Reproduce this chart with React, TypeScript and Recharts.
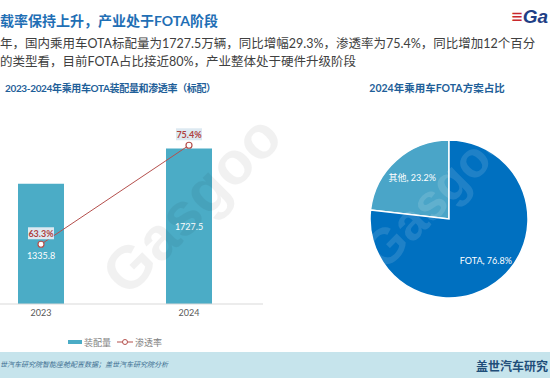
import React from "react";
import {
  ComposedChart, Bar, Line, XAxis, YAxis, Legend, LabelList,
  PieChart, Pie, Cell,
} from "recharts";

const years = ["2023", "2024"];
const installs = [1335.8, 1727.5];
const penetration = [63.3, 75.4];

const pieNames = ["其他", "FOTA"];
const pieShares = [23.2, 76.8];
const pieColors = ["#4aa5c8", "#0070c0"];

const FONT = "Lato, 'Noto Sans CJK SC', sans-serif";
const BAR_COLOR = "#4bacc6";
const LINE_COLOR = "#b5504d";

const barData = years.map((y, i) => ({ year: y, installs: installs[i], rate: penetration[i] }));
const pieData = pieNames.map((n, i) => ({ name: n, value: pieShares[i] }));

// first bar label sits a little lower so it does not hit the line point
const barLabelShift = [12, 0];

function BarLabel(props: any) {
  const { x, y, width, height, value, index } = props;
  return (
    <text x={x + width / 2} y={y + height / 2 + barLabelShift[index]} fill="#fff" fontSize={9}
      textAnchor="middle" dominantBaseline="central" fontFamily={FONT}>
      {value}
    </text>
  );
}

function RateLabel(props: any) {
  const { x, y, value } = props;
  return (
    <g>
      <rect x={x - 13} y={y - 17} width={26} height={12} fill="#dde9f1" />
      <text x={x} y={y - 11} fill="#b0413e" fontSize={9} fontWeight="bold" textAnchor="middle"
        dominantBaseline="central" fontFamily={FONT}>
        {value}%
      </text>
    </g>
  );
}

function LegendBox() {
  return (
    <div style={{ display: "flex", justifyContent: "center", alignItems: "center", fontSize: 9, color: "#7f7f7f", fontFamily: FONT, height: 24 }}>
      <svg width={14} height={8} style={{ marginRight: 2 }}>
        <rect x={0} y={2} width={14} height={4} fill={BAR_COLOR} />
      </svg>
      <span>装配量</span>
      <svg width={16} height={8} style={{ marginLeft: 6, marginRight: 2 }}>
        <line x1={0} y1={4} x2={16} y2={4} stroke={LINE_COLOR} strokeWidth={1} />
        <circle cx={8} cy={4} r={2.5} fill="#fff" stroke={LINE_COLOR} strokeWidth={1} />
      </svg>
      <span>渗透率</span>
    </div>
  );
}

const RAD = Math.PI / 180;
function PieLabel(props: any) {
  const { cx, cy, midAngle, outerRadius, name, value } = props;
  const r = outerRadius * 0.7;
  const x = cx + r * Math.cos(-midAngle * RAD);
  const y = cy + r * Math.sin(-midAngle * RAD);
  return (
    <g>
      <text x={x} y={y} fill="#fff" fontSize={9} dominantBaseline="central" fontFamily={FONT}
        style={{ textAnchor: "middle" }}>
        {name}, {value}%
      </text>
    </g>
  );
}

export default function App() {
  return (
    <div style={{ position: "absolute", left: 0, top: 0, width: 550, height: 378, overflow: "hidden", background: "#fff", fontFamily: FONT }}>
      {/* header */}
      <div style={{ position: "absolute", left: 0, top: 10, fontSize: 14, fontWeight: "bold", color: "#1f6fb5", whiteSpace: "nowrap" }}>
        载率保持上升，产业处于FOTA阶段
      </div>
      <div style={{ position: "absolute", right: 2, top: 6, fontSize: 19, fontWeight: "bold", fontStyle: "italic", color: "#1f3f86", fontFamily: "'Liberation Sans', sans-serif" }}>
        <span style={{ color: "#c8282e" }}>≡</span>Ga
      </div>
      <div style={{ position: "absolute", left: 0, top: 35, fontSize: 12.5, lineHeight: "18px", color: "#404040", whiteSpace: "nowrap" }}>
        年，国内乘用车OTA标配量为1727.5万辆，同比增幅29.3%，渗透率为75.4%，同比增加12个百分<br />
        的类型看，目前FOTA占比接近80%，产业整体处于硬件升级阶段
      </div>

      {/* left chart */}
      <div style={{ position: "absolute", left: 5, top: 80, fontSize: 10, letterSpacing: -0.35, fontWeight: "bold", color: "#1f5f99", whiteSpace: "nowrap" }}>
        2023-2024年乘用车OTA装配量和渗透率（标配）
      </div>
      <div style={{ position: "absolute", left: -33, top: 124 }}>
        <ComposedChart width={296} height={230} data={barData} margin={{ top: 0, right: 0, left: 0, bottom: 0 }}>
          <XAxis dataKey="year" axisLine={{ stroke: "#d9d9d9" }} tickLine={false} tickSize={4} tickMargin={2}
            height={26} tick={{ fontSize: 9, fill: "#595959", fontFamily: FONT }} />
          <YAxis yAxisId="left" hide domain={[0, 2000]} />
          <YAxis yAxisId="right" orientation="right" hide domain={[56, 78]} />
          <Bar yAxisId="left" dataKey="installs" fill={BAR_COLOR} barSize={46} isAnimationActive={false}>
            <LabelList dataKey="installs" content={BarLabel} />
          </Bar>
          <Line yAxisId="right" dataKey="rate" stroke={LINE_COLOR} strokeWidth={1} isAnimationActive={false}
            dot={{ r: 3, fill: "#fff", stroke: LINE_COLOR, strokeWidth: 1.2 }}>
            <LabelList dataKey="rate" content={RateLabel} />
          </Line>
          <Legend verticalAlign="bottom" height={24} content={LegendBox} />
        </ComposedChart>
      </div>

      {/* pie chart */}
      <div style={{ position: "absolute", left: 280, top: 80, width: 314, textAlign: "center", fontSize: 10.5, fontWeight: "bold", color: "#1f5f99", whiteSpace: "nowrap" }}>
        2024年乘用车FOTA方案占比
      </div>
      <div style={{ position: "absolute", left: 280, top: 75 }}>
        <PieChart width={270} height={260} margin={{ top: 0, right: 0, left: 0, bottom: 0 }}>
          <Pie data={pieData} dataKey="value" nameKey="name" cx={169} cy={144} outerRadius={79}
            startAngle={90} endAngle={450} stroke="#fff" strokeWidth={1.5}
            label={PieLabel} labelLine={false} isAnimationActive={false}>
            {pieData.map((d, i) => <Cell key={d.name} fill={pieColors[i]} />)}
          </Pie>
        </PieChart>
      </div>

      {/* watermark */}
      <div style={{ position: "absolute", left: 80, top: 170, fontSize: 60, fontWeight: "bold", color: "#000", opacity: 0.05, transform: "rotate(-45deg)", fontFamily: "'Liberation Sans', sans-serif", pointerEvents: "none" }}>
        Gasgoo
      </div>
      <div style={{ position: "absolute", left: 345, top: 165, fontSize: 50, fontWeight: "bold", color: "#fff", opacity: 0.12, transform: "rotate(-45deg)", fontFamily: "'Liberation Sans', sans-serif", pointerEvents: "none" }}>
        Gasgoo
      </div>

      {/* footer */}
      <div style={{ position: "absolute", left: 0, top: 352, width: 550, height: 26, background: "#c6e4ec" }} />
      <div style={{ position: "absolute", left: 0, top: 359, fontSize: 7, fontStyle: "italic", color: "#3c6e91", whiteSpace: "nowrap" }}>
        世汽车研究院智能座舱配置数据；盖世汽车研究院分析
      </div>
      <div style={{ position: "absolute", left: 476, top: 357, fontSize: 12, fontWeight: "bold", color: "#1f4e79", whiteSpace: "nowrap" }}>
        盖世汽车研究
      </div>
    </div>
  );
}
